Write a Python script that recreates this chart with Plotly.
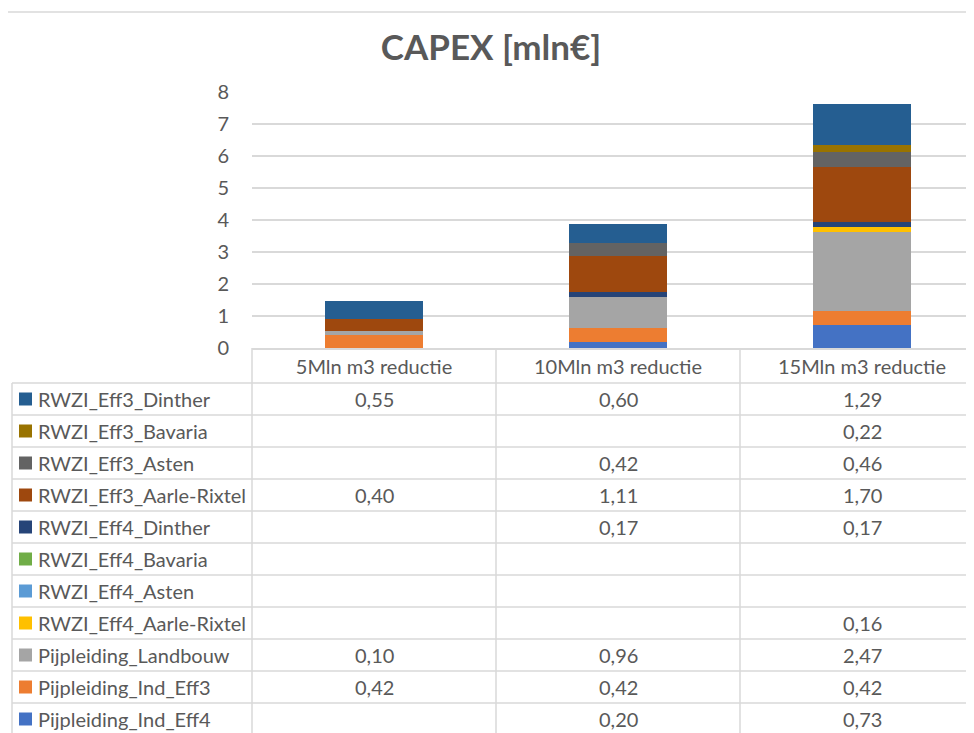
import plotly.graph_objects as go

categories = ["5Mln m3 reductie", "10Mln m3 reductie", "15Mln m3 reductie"]

# stacking order bottom -> top
series_names = [
    "Pijpleiding_Ind_Eff4",
    "Pijpleiding_Ind_Eff3",
    "Pijpleiding_Landbouw",
    "RWZI_Eff4_Aarle-Rixtel",
    "RWZI_Eff4_Asten",
    "RWZI_Eff4_Bavaria",
    "RWZI_Eff4_Dinther",
    "RWZI_Eff3_Aarle-Rixtel",
    "RWZI_Eff3_Asten",
    "RWZI_Eff3_Bavaria",
    "RWZI_Eff3_Dinther",
]
pijp_ind_eff4 = [None, 0.20, 0.73]
pijp_ind_eff3 = [0.42, 0.42, 0.42]
pijp_landbouw = [0.10, 0.96, 2.47]
eff4_aarle = [None, None, 0.16]
eff4_asten = [None, None, None]
eff4_bavaria = [None, None, None]
eff4_dinther = [None, 0.17, 0.17]
eff3_aarle = [0.40, 1.11, 1.70]
eff3_asten = [None, 0.42, 0.46]
eff3_bavaria = [None, None, 0.22]
eff3_dinther = [0.55, 0.60, 1.29]
series_values = [pijp_ind_eff4, pijp_ind_eff3, pijp_landbouw, eff4_aarle, eff4_asten,
                 eff4_bavaria, eff4_dinther, eff3_aarle, eff3_asten, eff3_bavaria, eff3_dinther]
series_colors = ["#4472C4", "#ED7D31", "#A5A5A5", "#FFC000", "#5B9BD5", "#70AD47",
                 "#264478", "#9E480E", "#636363", "#997300", "#255E91"]

W, H = 974, 733
OFF = 8  # page body margin
FONT = "Lato, Calibri, sans-serif"
TXT = "#595959"
GRID = "#D9D9D9"

def px(x):
    return (x - OFF) / W

def py(y):
    return 1 - (y - OFF) / H

plot_left, plot_top, plot_bottom = 252, 92, 348
cat_w = 244
row_top0, row_h = 383, 32

fig = go.Figure()
for name, vals, col in zip(series_names, series_values, series_colors):
    fig.add_trace(go.Bar(x=categories, y=vals, name=name, marker=dict(color=col, line=dict(width=0))))

shapes = []
annotations = []
# top border line
shapes.append(dict(type="line", xref="paper", yref="paper", x0=px(3), x1=1, y0=py(12), y1=py(12),
                   line=dict(color=GRID, width=1.5)))
n_rows = len(series_names)
table_bottom = row_top0 + row_h * n_rows
# horizontal row lines
for i in range(n_rows + 1):
    yy = row_top0 + row_h * i
    shapes.append(dict(type="line", xref="paper", yref="paper", x0=px(12), x1=1, y0=py(yy), y1=py(yy),
                       line=dict(color=GRID, width=1.5)))
# vertical lines
shapes.append(dict(type="line", xref="paper", yref="paper", x0=px(12), x1=px(12), y0=py(row_top0), y1=py(table_bottom),
                   line=dict(color=GRID, width=1.5)))
shapes.append(dict(type="line", xref="paper", yref="paper", x0=px(plot_left), x1=px(plot_left), y0=py(plot_bottom), y1=py(table_bottom),
                   line=dict(color=GRID, width=1.5)))
for k in range(len(categories)):
    shapes.append(dict(type="line", xref="x", yref="paper", x0=k + 0.5, x1=k + 0.5, y0=py(plot_bottom), y1=py(table_bottom),
                       line=dict(color=GRID, width=1.5)))

# table rows (top -> bottom is reverse of stacking)
for r, idx in enumerate(reversed(range(n_rows))):
    yc = row_top0 + row_h * r + row_h / 2
    shapes.append(dict(type="rect", xref="paper", yref="paper", x0=px(19), x1=px(32), y0=py(yc - 6.5), y1=py(yc + 6.5),
                       fillcolor=series_colors[idx], line=dict(width=0)))
    annotations.append(dict(xref="paper", yref="paper", x=px(36), y=py(yc), text=series_names[idx], showarrow=False,
                            xanchor="left", yanchor="middle", font=dict(family=FONT, size=20, color=TXT)))
    for c, v in enumerate(series_values[idx]):
        if v is None:
            continue
        annotations.append(dict(xref="x", yref="paper", x=c, y=py(yc), text=f"{v:.2f}".replace(".", ","),
                                showarrow=False, xanchor="center", yanchor="middle",
                                font=dict(family=FONT, size=20, color=TXT)))

fig.update_layout(
    width=W, height=H,
    margin=dict(l=0, r=0, t=0, b=0, pad=0, autoexpand=False),
    paper_bgcolor="white", plot_bgcolor="white",
    barmode="stack", bargap=0.6, showlegend=False,
    title=dict(text="<b>CAPEX [mln€]</b>", x=px(491), y=py(48), xanchor="center", yanchor="middle",
               font=dict(family=FONT, size=35, color=TXT)),
    xaxis=dict(domain=[px(plot_left), 1], range=[-0.5, -0.5 + (W + OFF - plot_left) / cat_w],
               automargin=False,
               showline=True, linecolor=GRID, linewidth=1.5, showgrid=False,
               ticks="", ticklen=0,
               tickfont=dict(family=FONT, size=20, color=TXT)),
    yaxis=dict(domain=[py(plot_bottom), py(plot_top)], range=[0, 8], dtick=1,
               automargin=False,
               showgrid=True, gridcolor=GRID, gridwidth=1.5, zeroline=False, showline=False,
               ticks="outside", ticklen=18, tickcolor="rgba(0,0,0,0)",
               tickfont=dict(family=FONT, size=20, color=TXT)),
    shapes=shapes, annotations=annotations,
)

fig.write_html("out.html")
